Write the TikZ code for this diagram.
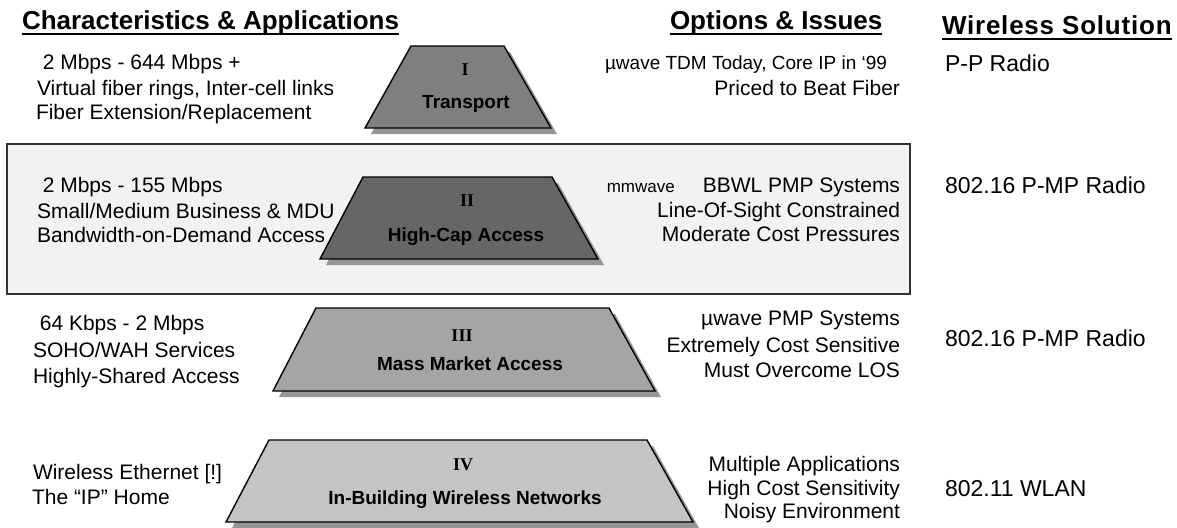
\documentclass[tikz,border=0pt]{standalone}
\usepackage{fontspec}
\setmainfont{Liberation Sans}
\newfontfamily\serifnum{Liberation Serif}
\definecolor{boxfill}{HTML}{F2F2F2}
\definecolor{boxedge}{HTML}{333333}
\definecolor{shadowgray}{HTML}{969696}
\definecolor{trapone}{HTML}{7F7F7F}
\definecolor{traptwo}{HTML}{666666}
\definecolor{trapthree}{HTML}{A5A5A5}
\definecolor{trapfour}{HTML}{C4C4C4}
\newcommand\drawtrap[7]{%
  \fill[shadowgray,shift={(6,6)}] (#1,#3) -- (#2,#3) -- (#5,#6) -- (#4,#6) -- cycle;
  \filldraw[fill=#7,trapline] (#1,#3) -- (#2,#3) -- (#5,#6) -- (#4,#6) -- cycle;}
\begin{document}
\begin{tikzpicture}[x=1pt,y=-1pt,
  every node/.style={inner sep=0pt, outer sep=0pt},
  head/.style={font=\fontsize{26}{30}\selectfont\bfseries, anchor=base west},
  lefttxt/.style={font=\fontsize{21}{25}\selectfont, anchor=base west},
  righttxt/.style={font=\fontsize{21}{25}\selectfont, anchor=base east},
  sol/.style={font=\fontsize{23}{27}\selectfont, anchor=base west},
  numeral/.style={font=\serifnum\bfseries\fontsize{18}{20}\selectfont, anchor=base},
  layer/.style={font=\bfseries\fontsize{19}{22}\selectfont, anchor=base},
  trapline/.style={draw=black, line width=1.4pt, line join=miter},
  uline/.style={line width=2pt}]
\useasboundingbox (0,0) rectangle (1177,527);
\fill[white] (0,0) rectangle (1177,527);
% headings
\node[head] (h1) at (22,30) {Characteristics \& Applications};
\node[head] (h2) at (670,30) {Options \& Issues};
\node[head, font=\fontsize{26}{30}\selectfont\bfseries\addfontfeature{LetterSpace=3}] (h3) at (942,35) {Wireless Solution};
\foreach \h in {h1,h2,h3}
  \draw[uline] ([yshift=-4pt]\h.base west) -- ([yshift=-4pt]\h.base east);
% band II box
\draw[draw=boxedge, line width=1.5pt, fill=boxfill] (7,144) rectangle (910,294);
% trapezoids
\drawtrap{411}{504}{46}{365}{551}{128}{trapone}
\drawtrap{363}{552}{177}{320}{598}{259}{traptwo}
\drawtrap{316}{609}{308}{273}{655}{391}{trapthree}
\drawtrap{269}{647}{440}{226}{693}{522}{trapfour}
\node[numeral] (n1) at (465,75) {I};
\node[layer] (l1) at (466,108) {Transport};
\node[numeral] (n2) at (467,206) {II};
\node[layer] (l2) at (466,241) {High-Cap Access};
\node[numeral] (n3) at (462,341) {III};
\node[layer] (l3) at (470,370) {Mass Market Access};
\node[numeral] (n4) at (463,470) {IV};
\node[layer] (l4) at (465,504) {In-Building Wireless Networks};
% left column
\node[lefttxt] (a1) at (37,70) {\ 2 Mbps - 644 Mbps +};
\node[lefttxt] (a2) at (37,95) {Virtual fiber rings, Inter-cell links};
\node[lefttxt] (a3) at (36,119) {Fiber Extension/Replacement};
\node[lefttxt] (b1) at (37,192) {\ 2 Mbps - 155 Mbps};
\node[lefttxt] (b2) at (37,218) {Small/Medium Business \& MDU};
\node[lefttxt] (b3) at (37,242) {Bandwidth-on-Demand Access};
\node[lefttxt] (c1) at (34,330) {\ 64 Kbps - 2 Mbps};
\node[lefttxt] (c2) at (33,357) {SOHO/WAH Services};
\node[lefttxt] (c3) at (33,383) {Highly-Shared Access};
\node[lefttxt] (d1) at (33,479) {Wireless Ethernet [!]};
\node[lefttxt] (d2) at (32,504) {The “IP” Home};
% options column
\node[righttxt, font=\fontsize{19}{22}\selectfont] (o1) at (887,70) {µwave TDM Today, Core IP in ‘99};
\node[righttxt] (o2) at (900,95) {Priced to Beat Fiber};
\node[righttxt] (p1) at (900,192) {{\fontsize{17}{20}\selectfont mmwave}\hspace{28pt}BBWL PMP Systems};
\node[righttxt] (p2) at (900,217) {Line-Of-Sight Constrained};
\node[righttxt] (p3) at (900,241) {Moderate Cost Pressures};
\node[righttxt] (q1) at (900,325) {µwave PMP Systems};
\node[righttxt] (q2) at (900,352) {Extremely Cost Sensitive};
\node[righttxt] (q3) at (900,377) {Must Overcome LOS};
\node[righttxt] (r1) at (900,471) {Multiple Applications};
\node[righttxt] (r2) at (900,495) {High Cost Sensitivity};
\node[righttxt] (r3) at (900,518) {Noisy Environment};
% solutions column
\node[sol] (s1) at (945,71) {P-P Radio};
\node[sol] (s2) at (945,193) {802.16 P-MP Radio};
\node[sol] (s3) at (945,346) {802.16 P-MP Radio};
\node[sol] (s4) at (945,496) {802.11 WLAN};
\end{tikzpicture}
\end{document}
